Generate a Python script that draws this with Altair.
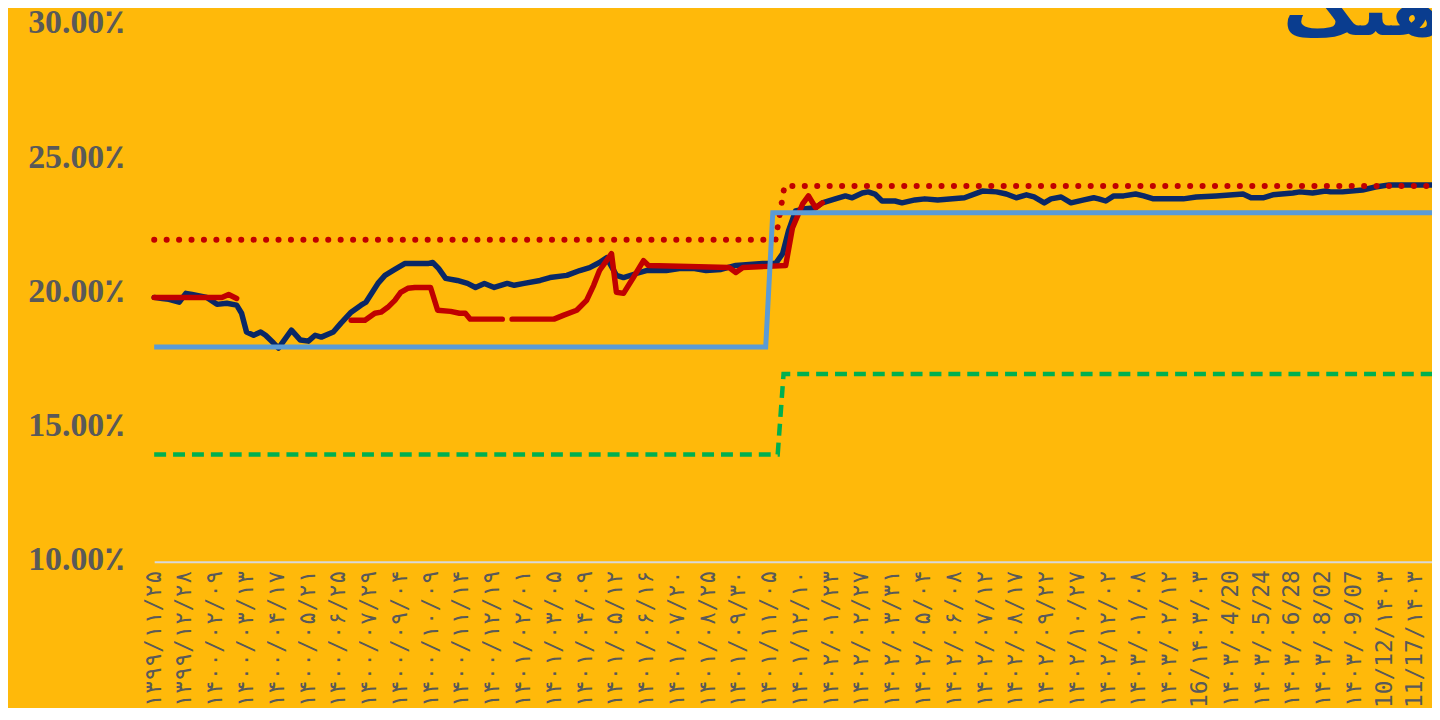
import json
import altair as alt
import pandas as pd

TITLE = "آهنگ"

X_LABELS = [
    "۱۳۹۹/۱۱/۲۵", "۱۳۹۹/۱۲/۲۸", "۱۴۰۰/۰۲/۰۹", "۱۴۰۰/۰۳/۱۳", "۱۴۰۰/۰۴/۱۷",
    "۱۴۰۰/۰۵/۲۱", "۱۴۰۰/۰۶/۲۵", "۱۴۰۰/۰۷/۲۹", "۱۴۰۰/۰۹/۰۴", "۱۴۰۰/۱۰/۰۹",
    "۱۴۰۰/۱۱/۱۴", "۱۴۰۰/۱۲/۱۹", "۱۴۰۱/۰۲/۰۱", "۱۴۰۱/۰۳/۰۵", "۱۴۰۱/۰۴/۰۹",
    "۱۴۰۱/۰۵/۱۲", "۱۴۰۱/۰۶/۱۶", "۱۴۰۱/۰۷/۲۰", "۱۴۰۱/۰۸/۲۵", "۱۴۰۱/۰۹/۳۰",
    "۱۴۰۱/۱۱/۰۵", "۱۴۰۱/۱۲/۱۰", "۱۴۰۲/۰۱/۲۳", "۱۴۰۲/۰۲/۲۷", "۱۴۰۲/۰۳/۳۱",
    "۱۴۰۲/۰۵/۰۴", "۱۴۰۲/۰۶/۰۸", "۱۴۰۲/۰۷/۱۲", "۱۴۰۲/۰۸/۱۷", "۱۴۰۲/۰۹/۲۲",
    "۱۴۰۲/۱۰/۲۷", "۱۴۰۲/۱۲/۰۲", "۱۴۰۳/۰۱/۰۸", "۱۴۰۳/۰۲/۱۲", "16/۱۴۰۳/۰۳",
    "۱۴۰۳/۰4/20", "۱۴۰۳/۰5/24", "۱۴۰۳/۰6/28", "۱۴۰۳/۰8/02", "۱۴۰۳/۰9/07",
    "10/12/۱۴۰۳", "11/17/۱۴۰۳",
]
Y_TICKS = [10, 15, 20, 25, 30]

# navy series (x in label periods, y in percent)
NAVY_X = [0, 0.26, 0.48, 0.81, 1.03, 1.23, 1.71, 2.04, 2.36, 2.68, 2.84, 3.00, 3.23, 3.46,
          3.62, 3.88, 4.04, 4.46, 4.75, 5.01, 5.23, 5.43, 5.82, 6.07, 6.40, 6.72, 6.88, 7.27,
          7.50, 7.82, 8.14, 8.56, 8.89, 9.05, 9.24, 9.47, 9.85, 10.18, 10.44, 10.73, 11.05,
          11.47, 11.70, 12.02, 12.54, 12.86, 13.41, 13.83, 14.15, 14.47, 14.70, 15.02, 15.25,
          15.67, 15.99, 16.64, 17.12, 17.51, 17.93, 18.42, 18.90, 19.77, 20.19, 20.42, 20.61,
          20.84, 21.16, 21.49, 21.71, 22.13, 22.46, 22.68, 23.01, 23.20, 23.42, 23.65, 24.07,
          24.30, 24.72, 25.04, 25.46, 26.33, 26.91, 27.37, 27.69, 28.01, 28.34, 28.59, 28.92,
          29.14, 29.47, 29.79, 30.21, 30.53, 30.69, 30.92, 31.18, 31.50, 31.89, 32.15, 32.47,
          33.44, 33.86, 34.51, 35.38, 35.64, 36.03, 36.35, 37.00, 37.22, 37.64, 38.06, 38.22,
          38.61, 39.26, 39.68, 40.13, 41.52]
NAVY_Y = [19.85, 19.81, 19.78, 19.67, 20.00, 19.96, 19.85, 19.59, 19.63, 19.56, 19.26, 18.56,
          18.44, 18.56, 18.44, 18.15, 17.96, 18.63, 18.26, 18.22, 18.44, 18.37, 18.56, 18.89,
          19.30, 19.56, 19.67, 20.37, 20.67, 20.89, 21.11, 21.11, 21.11, 21.15, 20.93, 20.56,
          20.48, 20.37, 20.22, 20.37, 20.22, 20.37, 20.30, 20.37, 20.48, 20.59, 20.67, 20.85,
          20.96, 21.15, 21.33, 20.67, 20.59, 20.74, 20.85, 20.85, 20.93, 20.93, 20.85, 20.89,
          21.04, 21.11, 21.11, 21.48, 22.33, 23.07, 23.15, 23.19, 23.37, 23.52, 23.63, 23.56,
          23.74, 23.78, 23.70, 23.44, 23.44, 23.37, 23.48, 23.52, 23.48, 23.56, 23.81, 23.78,
          23.70, 23.56, 23.67, 23.59, 23.37, 23.52, 23.59, 23.37, 23.48, 23.56, 23.52, 23.44,
          23.63, 23.63, 23.70, 23.63, 23.52, 23.52, 23.59, 23.63, 23.70, 23.56, 23.56, 23.67,
          23.74, 23.78, 23.74, 23.81, 23.78, 23.78, 23.85, 23.96, 24.04, 24.04]

# red series, three pieces with gaps between them
RED1_X = [0, 1.13, 2.20, 2.42, 2.68]
RED1_Y = [19.85, 19.85, 19.85, 19.96, 19.81]
RED2_X = [6.40, 6.85, 7.17, 7.37, 7.59, 7.82, 8.01, 8.24, 8.47, 8.98, 9.21, 9.63, 9.92,
          10.11, 10.27, 11.31]
RED2_Y = [19.00, 19.00, 19.26, 19.30, 19.48, 19.74, 20.04, 20.19, 20.22, 20.22, 19.37, 19.33,
          19.26, 19.26, 19.04, 19.04]
RED3_X = [11.63, 12.99, 13.31, 13.73, 14.05, 14.28, 14.47, 14.86, 15.02, 15.25, 15.57, 15.90,
          16.06, 18.68, 18.90, 19.13, 20.52, 20.74, 21.07, 21.26, 21.49, 21.71]
RED3_Y = [19.04, 19.04, 19.19, 19.37, 19.74, 20.30, 20.85, 21.48, 20.04, 20.00, 20.59, 21.22,
          21.04, 20.96, 20.78, 20.96, 21.04, 22.44, 23.33, 23.63, 23.19, 23.37]

# step series
BLUE_X = [0, 19.87, 20.10, 41.52]
BLUE_Y = [18, 18, 23, 23]
DOT_X = [0, 20.19, 20.48, 41.52]
DOT_Y = [22, 22, 24, 24]
GREEN_X = [0, 20.26, 20.45, 41.52]
GREEN_Y = [14, 14, 17, 17]

X_MAX = 41.52


def frame(xs, ys, seg="a"):
    return pd.DataFrame({"u": xs, "pct": ys, "seg": seg})


label_expr = json.dumps(X_LABELS, ensure_ascii=False) + "[round(datum.value)]"

X = alt.X(
    "u:Q",
    scale=alt.Scale(domain=[0, X_MAX], nice=False, zero=False),
    axis=alt.Axis(
        values=list(range(len(X_LABELS))),
        labelExpr=label_expr,
        labelAngle=270,
        labelFont="DejaVu Sans Mono, DejaVu Sans",
        labelFontSize=23,
        labelColor="#595959",
        labelPadding=8,
        labelOffset=-1,
        labelOverlap=False,
        labelBound=False,
        labelFlush=False,
        ticks=False,
        grid=False,
        domain=True,
        domainColor="#D9D9D9",
        domainWidth=2,
        title=None,
    ),
)
Y = alt.Y(
    "pct:Q",
    scale=alt.Scale(domain=[10, 30], nice=False, zero=False),
    axis=alt.Axis(
        values=Y_TICKS,
        labelExpr="format(datum.value, '.2f') + '٪'",
        labelFont="Liberation Serif, DejaVu Sans",
        labelFontSize=34,
        labelFontWeight="bold",
        labelColor="#595959",
        labelPadding=30,
        labelOffset=-2,
        ticks=False,
        grid=False,
        domain=False,
        title=None,
    ),
)

navy = alt.Chart(frame(NAVY_X, NAVY_Y)).mark_line(
    color="#0A2866", strokeWidth=5.5, strokeCap="round", strokeJoin="round"
).encode(x=X, y=Y)

red_df = pd.concat([frame(RED1_X, RED1_Y, "a"), frame(RED2_X, RED2_Y, "b"), frame(RED3_X, RED3_Y, "c")])
red = alt.Chart(red_df).mark_line(
    color="#C00000", strokeWidth=5.5, strokeCap="round", strokeJoin="round"
).encode(x=X, y=Y, detail="seg:N")

dotted = alt.Chart(frame(DOT_X, DOT_Y)).mark_line(
    color="#C00000", strokeWidth=6, strokeCap="round", strokeDash=[0.1, 12.4]
).encode(x=X, y=Y)

blue = alt.Chart(frame(BLUE_X, BLUE_Y)).mark_line(
    color="#5B9BD5", strokeWidth=5, strokeJoin="miter"
).encode(x=X, y=Y)

green = alt.Chart(frame(GREEN_X, GREEN_Y)).mark_line(
    color="#00B050", strokeWidth=4.5, strokeDash=[12, 7]
).encode(x=X, y=Y)

title = alt.Chart(pd.DataFrame({"t": [TITLE]})).mark_text(
    font="DejaVu Sans", fontSize=76, fontWeight="bold", color="#0A3D8F",
    align="left", baseline="alphabetic"
).encode(text="t:N", x=alt.value(1135), y=alt.value(10))

chart = alt.layer(navy, red, dotted, blue, green, title).properties(
    width=1285,
    height=540,
    autosize=alt.AutoSizeParams(type="none"),
    padding={"left": 147, "top": 15, "right": 0, "bottom": 145},
    background="#FFB90A",
).configure_view(stroke=None)

chart.save("out.html", embed_options={"renderer": "svg", "actions": False})
